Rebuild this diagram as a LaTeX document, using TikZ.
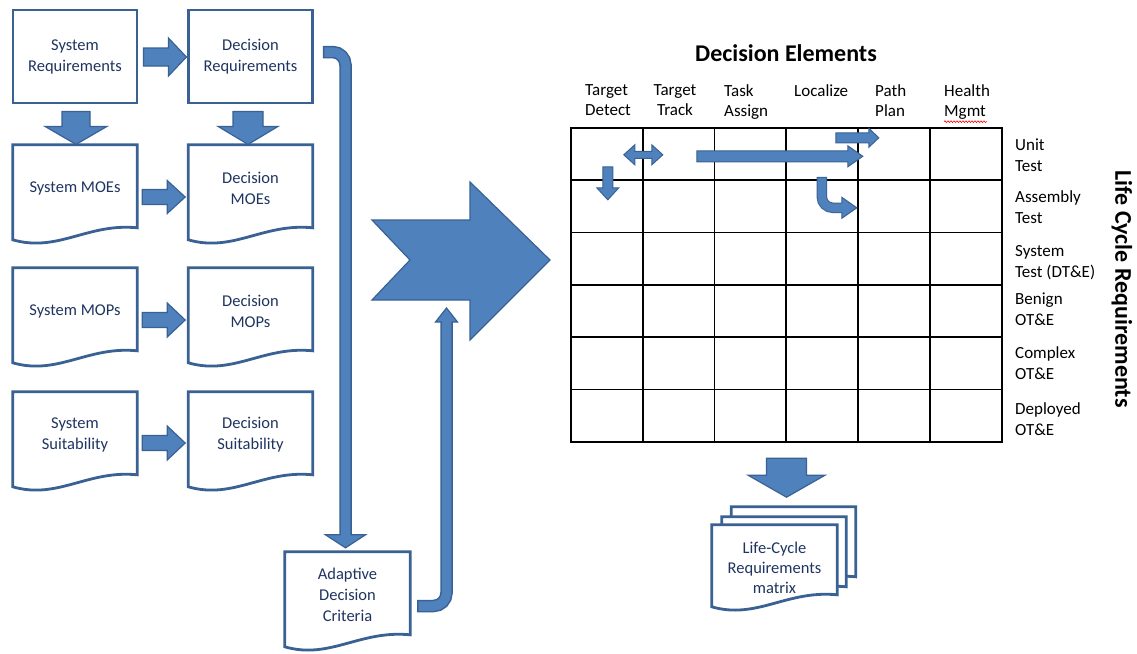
\documentclass[tikz,border=0pt]{standalone}
\usepackage{fontspec}
\setmainfont{Carlito}
\usetikzlibrary{calc,backgrounds,decorations.pathmorphing}

\definecolor{arrowfill}{HTML}{4F81BD}
\definecolor{arrowline}{HTML}{3A6193}
\definecolor{boxline}{HTML}{3A6193}
\definecolor{boxtext}{HTML}{1F3560}

% document outline with a wavy bottom edge, drawn around a named node
% #1 node, #2 drop of the left bottom corner, #3 drop of the right bottom corner
\newcommand\docoutline[3]{%
  \draw[docline] (#1.north west) -- (#1.north east) -- ($(#1.north east)+(0,#3)$)
    .. controls ($(#1.north west)+(75,#3-5)$) and ($(#1.north west)+(45,#2+13)$)
    .. ($(#1.north west)+(0,#2)$) -- cycle;}

\tikzset{
  blockfill/.style={fill=arrowfill, draw=arrowline, line width=1.2pt, line join=miter},
  smallfill/.style={fill=arrowfill, draw=arrowline, line width=1pt, line join=miter},
  docline/.style={draw=boxline, line width=2.8pt, fill=white, line join=miter},
  boxtxt/.style={align=center, text=boxtext, font=\fontsize{16.5}{21}\selectfont, inner sep=0pt},
  sysbox/.style={boxtxt, draw=boxline, line width=2.8pt, minimum width=124, minimum height=93},
  docnode/.style={boxtxt, minimum width=124, minimum height=86},
  gridline/.style={draw=black, line width=1.8pt, line cap=rect},
  hdr/.style={align=left, anchor=north west, inner sep=0pt, font=\fontsize{17}{20.5}\selectfont},
  rowlbl/.style={align=left, anchor=west, inner sep=0pt, font=\fontsize{17}{21}\selectfont},
  % block arrow pointing along +x: length, shaft half width, head half width, head length
  pics/barrow/.style n args={4}{code={
    \draw[blockfill] (0,-#2) -- (#1-#4,-#2) -- (#1-#4,-#3) -- (#1,0)
      -- (#1-#4,#3) -- (#1-#4,#2) -- (0,#2) -- cycle;}},
  pics/sarrow/.style n args={4}{code={
    \draw[smallfill] (0,-#2) -- (#1-#4,-#2) -- (#1-#4,-#3) -- (#1,0)
      -- (#1-#4,#3) -- (#1-#4,#2) -- (0,#2) -- cycle;}},
  pics/dblarrow/.style n args={4}{code={
    \draw[smallfill] (0,0) -- (#4,-#3) -- (#4,-#2) -- (#1-#4,-#2) -- (#1-#4,-#3)
      -- (#1,0) -- (#1-#4,#3) -- (#1-#4,#2) -- (#4,#2) -- (#4,#3) -- cycle;}},
}

\begin{document}
\begin{tikzpicture}[x=1pt, y=-1pt]
\useasboundingbox (0,0) rectangle (1137,653);

% ---------- left column ----------
\node[sysbox] (sr) at (75,56.5) {System\\Requirements};
\node[sysbox] (dr) at (250.5,56.5) {Decision\\Requirements};

\node[docnode] (sm) at (75,188) {System MOEs};
\node[docnode] (dm) at (250.5,188) {Decision\\MOEs};
\node[docnode] (sp) at (75,311) {System MOPs};
\node[docnode] (dp) at (250.5,311) {Decision\\MOPs};
\node[docnode] (ss) at (75,435) {System\\Suitability};
\node[docnode] (ds) at (250.5,435) {Decision\\Suitability};
\node[docnode, minimum width=125] (adc) at (347.5,595) {Adaptive\\Decision\\Criteria};

% stacked output documents
\node[docnode] (lcr3) at (793.5,550) {};
\node[docnode] (lcr2) at (784,560) {};
\node[docnode, minimum width=125, font=\fontsize{16.5}{20}\selectfont] (lcr) at (774.5,568)
  {Life-Cycle\\Requirements\\matrix};

\begin{pgfonlayer}{background}
  \fill[white] (0,0) rectangle (1137,653);
  \foreach \d in {sm,dm,sp,dp,ss,ds,adc} {\docoutline{\d}{95}{83}}
  \docoutline{lcr3}{82}{70}
  \docoutline{lcr2}{82}{70}
  \docoutline{lcr}{82}{70}
\end{pgfonlayer}

% arrows between the columns
\pic at ($(sr.east)+(5,0.5)$) {barrow={43}{9}{19}{18}};
\pic at ($(sm.east)+(5,9)$) {barrow={43}{7.5}{16.5}{18}};
\pic at ($(sp.east)+(5,9)$) {barrow={43}{7.5}{17}{18}};
\pic at ($(ss.east)+(5,8)$) {barrow={43}{7.5}{17}{18}};
\pic[rotate=-90] at ($(sr.south)+(1,7)$) {barrow={33}{14}{31}{18}};
\pic[rotate=-90] at ($(dr.south)+(-2.5,7)$) {barrow={33}{15}{30}{18}};

% long bent arrow down to the adaptive criteria
\coordinate (ls) at ($(dr.east)+(9,-4.5)$);
\coordinate (lh) at ($(adc.north)+(-2,-4)$);
\draw[line width=12.5pt, arrowline, rounded corners=13] (ls) -| ($(lh)+(0,-13)$);
\draw[blockfill] ($(lh)+(-20,-13)$) -- (lh) -- ($(lh)+(20,-13)$) -- cycle;
\draw[line width=9.5pt, arrowfill, rounded corners=13] ($(ls)+(1.4,0)$) -| ($(lh)+(0,-11.5)$);

% bent arrow back up to the big arrow
\coordinate (us) at ($(adc.east)+(7,11)$);
\coordinate (ut) at (446.5,308);
\draw[line width=12.5pt, arrowline, rounded corners=13] (us) -| ($(ut)+(0,14)$);
\draw[blockfill] ($(ut)+(-11,14)$) -- (ut) -- ($(ut)+(11,14)$) -- cycle;
\draw[line width=9.5pt, arrowfill, rounded corners=13] ($(us)+(1.4,0)$) -| ($(ut)+(0,12.5)$);

% big notched arrow
\draw[blockfill] (372,220) -- (470,220) -- (470,182) -- (550,260) -- (470,340)
  -- (470,300) -- (372,300) -- (410,260) -- cycle;

% ---------- decision element matrix ----------
\node[minimum width=431, minimum height=314, inner sep=0pt] (grid) at (786.5,285) {};
\foreach \i in {0,...,6}
  \draw[gridline] ($(grid.north west)+(\i*71.8333,0)$) -- ++(0,314);
\foreach \j in {0,...,6}
  \draw[gridline] ($(grid.north west)+(0,\j*52.3333)$) -- ++(431,0);

\node[font=\bfseries\fontsize{24}{28}\selectfont, inner sep=0pt] (title) at (786,53) {Decision Elements};
\node[hdr] (h1) at (585,84) {Target\\Detect};
\node[hdr, anchor=north, align=center] (h2) at (675,84) {Target\\Track};
\node[hdr] (h3) at (724,84) {Task\\Assign};
\node[hdr] (h4) at (794,84) {Localize};
\node[hdr] (h5) at (875,84) {Path\\Plan};
\node[hdr] (h6) at (944,84) {Health\\Mgmt};
\draw[red, line width=0.6pt, decorate, decoration={snake, amplitude=0.9pt, segment length=3pt}]
  ($(h6.south west)+(0,2)$) -- ($(h6.south west)+(43,2)$);

\node[rowlbl] (r1) at (1015,155) {Unit\\Test};
\node[rowlbl] (r2) at (1015,207) {Assembly\\Test};
\node[rowlbl] (r3) at (1015,263) {System\\Test (DT\&E)};
\node[rowlbl] (r4) at (1015,309.5) {Benign\\OT\&E};
\node[rowlbl] (r5) at (1015,363.5) {Complex\\OT\&E};
\node[rowlbl] (r6) at (1015,419) {Deployed\\OT\&E};

\node[rotate=-90, font=\bfseries\fontsize{24}{28}\selectfont, inner sep=0pt] (lcrt) at (1122,289)
  {Life Cycle Requirements};

% dependency arrows inside the matrix
\pic[rotate=-90] at ($(grid.north west)+(37,39)$) {sarrow={33}{5}{11}{12}};
\pic at ($(grid.north west)+(53,27)$) {dblarrow={39}{3.5}{10}{11}};
\pic at ($(grid.north west)+(126,28.5)$) {sarrow={166}{5.5}{10.5}{15}};
\pic at ($(grid.north west)+(265,10)$) {sarrow={43}{5}{9.5}{10}};
\coordinate (bs) at ($(grid.north west)+(251,49)$);
\coordinate (bt) at ($(grid.north west)+(286,80)$);
\draw[line width=10.5pt, arrowline, rounded corners=11] (bs) |- ($(bt)+(-15,0)$);
\draw[smallfill] ($(bt)+(-15,-10.5)$) -- (bt) -- ($(bt)+(-15,10.5)$) -- cycle;
\draw[line width=8.5pt, arrowfill, rounded corners=11] ($(bs)+(0,1)$) |- ($(bt)+(-14,0)$);

% matrix feeds the life-cycle requirements documents
\pic[rotate=-90] at ($(grid.south)+(0,16)$) {barrow={39}{20}{38.5}{22}};

\end{tikzpicture}
\end{document}
